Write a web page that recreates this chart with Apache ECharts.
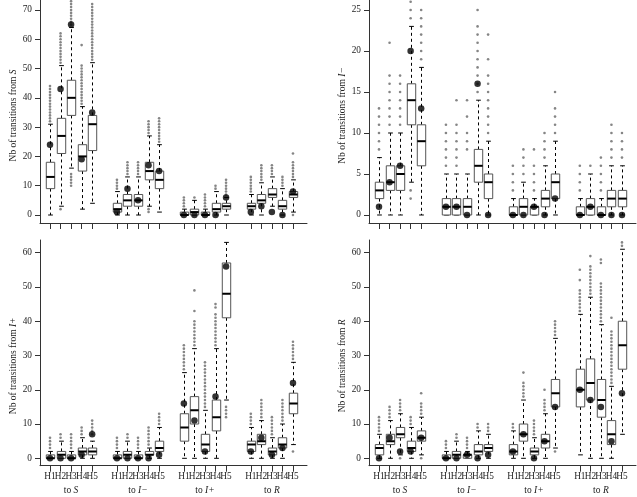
<!DOCTYPE html>
<html><head><meta charset="utf-8">
<script src="https://cdn.jsdelivr.net/npm/echarts@6/dist/echarts.min.js"></script>
<style>html,body{margin:0;padding:0;background:#fff}#c{width:637px;height:497px}</style>
</head><body><div id="c"></div>
<script>
// ---------- categories & tick labels ----------
const hLabels = ['H1','H2','H3','H4','H5'];
const groupNames = ['S','I\u2212','I+','R'];
const panelNames = ['S','I\u2212','I+','R'];
const yTicksS  = [0,10,20,30,40,50,60,70];
const yTicksIm = [0,5,10,15,20,25];
const yTicksIp = [0,10,20,30,40,50,60];
const yTicksR  = [0,10,20,30,40,50,60];

// ---------- box stats: [lower whisker, Q1, median, Q3, upper whisker]
// order: to S (H1..H5), to I− (H1..H5), to I+ (H1..H5), to R (H1..H5)
const fromS_box = [
  [0,9,13,18,31],[3,21,27,33,51],[16,34,40,46,64],[2,15,20,24,37],[4,22,31,34,52],
  [0,1,2,4,8],[0,3,5,7,13],[0,3,5,7,13],[3,12,15,18,27],[1,9,12,15,24],
  [0,0,0,1,2],[0,0,1,2,5],[0,0,0,1,2],[0,1,2,4,8],[0,2,3,4,6],
  [0,2,3,4,7],[0,4,5,7,11],[3,6,7,9,13],[0,2,3,5,9],[1,6,7,8,12]
];
const fromS_obs = [24,43,65,19,35, 1,9,5,17,15, 0,0,0,0,6, 1,3,1,0,8];
const fromS_out = [
  [32,33,34,35,36,37,38,39,40,41,42,43,44],
  [2,52,53,54,55,56,57,58,59,60,61,62],
  [10,11,12,13,14,65,66,67,68,69,70,71,72,73,74],
  [38,39,40,41,42,43,44,45,46,47,48,49,50,51,58],
  [53,54,55,56,57,58,59,60,61,62,63,64,65,66,67,68,69,70,71,72],
  [9,10,11,12],[14,15,16,17,18],[14,15,16,17,18],[1,2,28,29,30,31,32],[25,26,27,28,29,30,31,32,33],
  [3,4,5,6],[6],[3,4,5,6,7],[9,10],[7,8,9,10,11,12],
  [8,9,10,11,12,13],[12,13,14,15,16,17],[14,15,16,17],[10,11,12,13],[0,13,14,15,16,17,18,21]
];

const fromIm_box = [
  [0,2,3,4,7],[0,3,4,6,10],[0,3,5,6,10],[4,11,14,16,23],[0,6,9,11,18],
  [0,0,1,2,5],[0,0,1,2,5],[0,0,1,2,5],[0,4,6,8,14],[0,2,4,5,9],
  [0,0,0,1,2],[0,0,1,2,4],[0,0,1,1,2],[0,1,2,3,6],[0,2,4,5,9],
  [0,0,0,1,2],[0,0,1,2,5],[0,0,0,1,2],[0,1,2,3,6],[0,1,2,3,6]
];
const fromIm_obs = [1,4,6,20,13, 1,1,0,16,0, 0,0,1,0,2, 0,1,0,0,0];
const fromIm_out = [
  [8,9,10,11,12,13],[11,12,13,14,15,16,17,21],[11,12,13,14,15,16,17],[2,3,24,25,26],[19,20,21,22,23,24,25],
  [6,7,8,9,10,11],[6,7,8,9,10,11,14],[8,9,10,12,14],[15,16,17,18,19,20,21,22,23,25],[10,11,12,13,14,15,16,17,19,22],
  [3,4,5,6],[5,6,7,8],[3,4,5,6,8],[7,8,9,10],[10,11,12,13,15],
  [3,4,5,6],[6],[3,4,5,6,7],[7,8,9,10,11],[7,8,9,10]
];

const fromIp_box = [
  [0,0,0,1,2],[0,0,1,2,5],[0,0,0,1,2],[0,1,2,3,6],[0,1,2,3,5],
  [0,0,0,1,2],[0,0,1,2,5],[0,0,0,1,2],[0,1,1,2,3],[0,2,3,5,9],
  [0,5,9,13,25],[0,10,14,18,32],[0,2,4,7,14],[0,8,12,17,32],[17,41,48,57,63],
  [0,2,4,5,9],[0,4,5,7,11],[0,1,2,3,6],[0,3,4,6,10],[4,13,16,19,28]
];
const fromIp_obs = [0,0,0,1,7, 0,0,0,0,1, 16,11,2,18,56, 2,6,1,3,22];
const fromIp_out = [
  [3,4,5,6],[6,7],[3,4,5,6,7],[7,8,9],[7,8,9,10,11],
  [3,4,5,6],[6,7],[3,4,5,6],[4,5,6,7,8,9],[10,11,12,13],
  [26,27,28,29,30,31,32,33],[33,34,35,36,37,38,39,40,43,49],[15,16,17,18,19,20,21,22,23,24,25,26,27,28],[33,34,35,36,37,38,39,40,41,42,44,45],[12,13,14,15],
  [10,11,12,13],[12,13,14,15,16,17],[7,8,9,10,11,12],[11,12,13,14,15,16,17],[2,29,30,31,32,33,34]
];

const fromR_box = [
  [0,1,3,4,7],[0,4,5,7,11],[1,6,7,9,13],[0,2,3,5,9],[1,5,6,8,12],
  [0,0,0,1,2],[0,0,1,2,5],[0,0,1,1,2],[0,1,2,4,8],[0,2,3,4,7],
  [0,1,2,4,8],[0,5,7,10,17],[0,1,2,3,6],[0,3,5,7,13],[3,15,19,23,35],
  [1,15,20,26,42],[0,17,22,29,47],[0,12,17,23,39],[0,4,7,11,21],[7,26,33,40,61]
];
const fromR_obs = [0,6,2,2,6, 0,0,1,0,1, 2,7,0,5,15, 20,17,15,5,19];
const fromR_out = [
  [8,9,10,11,12],[12,13,14,15],[0,14,15,16,17],[10,11,12],[0,13,14,15,16,19],
  [3,4,5],[6,7],[3,4,5,6],[9,10],[8,9,10],
  [9,10],[18,19,20,21,22,25],[7,8,9,10,11],[14,15,16,17,20],[2,36,37,38,39,40],
  [43,44,45,46,47,48,49,52,55],[48,49,50,51,52,53,54,55,56,59],[40,41,42,43,44,45,46,47,48,49,50,51,57,58],[22,23,24,25,26,27,28,29,30,31,32,33,34,35,36,37,41],[62,63]
];

// ---------- layout ----------
const GROUP_STEP = 6.35;
const XMIN = -0.949, XMAX = 24.38;
const BOX_W = 0.8, CAP_W = 0.45;
const FONT = '"Liberation Serif","DejaVu Serif",serif';
function pos(i){ return Math.floor(i/5)*GROUP_STEP + (i%5); }
const boxPositions = Array.from({length:20}, (_,i)=>pos(i));
const oddPositions = boxPositions.filter((_,i)=>i%5===0||i%5===2||i%5===4);
const evenPositions = boxPositions.filter((_,i)=>i%5===1||i%5===3);
const groupCenters = [0,1,2,3].map(g=>g*GROUP_STEP+2);
function hFormatter(v){ const i = boxPositions.findIndex(b=>Math.abs(b-v)<0.01); return i<0?'':hLabels[i%5]; }

const panels = [
  {box:fromS_box, obs:fromS_obs, out:fromS_out, ticks:yTicksS, name:panelNames[0], left:40, top:0, height:223, ymin:-2.73, ymax:73.4, bottom:false},
  {box:fromIm_box, obs:fromIm_obs, out:fromIm_out, ticks:yTicksIm, name:panelNames[1], left:369, top:0, height:223, ymin:-0.976, ymax:26.22, bottom:false},
  {box:fromIp_box, obs:fromIp_obs, out:fromIp_out, ticks:yTicksIp, name:panelNames[2], left:40, top:240, height:225.7, ymin:-2.16, ymax:63.7, bottom:true},
  {box:fromR_box, obs:fromR_obs, out:fromR_out, ticks:yTicksR, name:panelNames[3], left:369, top:240, height:225.7, ymin:-2.16, ymax:63.7, bottom:true}
];

function renderBox(params, api){
  const x = api.value(0);
  const lo = api.coord([x, api.value(1)]);
  const q1 = api.coord([x, api.value(2)]);
  const md = api.coord([x, api.value(3)]);
  const q3 = api.coord([x, api.value(4)]);
  const hi = api.coord([x, api.value(5)]);
  const w = api.size([BOX_W, 0])[0];
  const cw = api.size([CAP_W, 0])[0];
  const cx = Math.round(lo[0]) + 0.5;
  const dash = {stroke:'#000', lineWidth:1, lineDash:[3,3]};
  const solid = {stroke:'#000', lineWidth:1};
  const ch = [];
  if (hi[1] < q3[1]) ch.push({type:'line', shape:{x1:cx,y1:q3[1],x2:cx,y2:hi[1]}, style:dash});
  if (lo[1] > q1[1]) ch.push({type:'line', shape:{x1:cx,y1:q1[1],x2:cx,y2:lo[1]}, style:dash});
  ch.push({type:'line', shape:{x1:cx-cw/2,y1:hi[1],x2:cx+cw/2,y2:hi[1]}, style:solid});
  ch.push({type:'line', shape:{x1:cx-cw/2,y1:lo[1],x2:cx+cw/2,y2:lo[1]}, style:solid});
  ch.push({type:'rect', shape:{x:cx-w/2, y:q3[1], width:w, height:Math.max(q1[1]-q3[1],0.5)}, style:{fill:'#fff', stroke:'#555', lineWidth:1}});
  ch.push({type:'line', shape:{x1:cx-w/2,y1:md[1],x2:cx+w/2,y2:md[1]}, style:{stroke:'#000', lineWidth:2}});
  return {type:'group', children:ch};
}

const grid = [], xAxis = [], yAxis = [], series = [];
panels.forEach((p, k) => {
  grid.push({left:p.left, top:p.top, width:267, height:p.height, containLabel:false});
  xAxis.push({
    gridIndex:k, type:'value', position:'bottom', min:XMIN, max:XMAX,
    axisLine:{show:true, onZero:false, lineStyle:{color:'#333', width:1}},
    axisTick:{show:true, customValues:boxPositions, length:6, lineStyle:{color:'#333'}},
    axisLabel:{show:p.bottom, customValues:oddPositions, margin:6, fontFamily:FONT, fontSize:9.3, color:'#222',
      showMinLabel:true, showMaxLabel:true, formatter:hFormatter},
    splitLine:{show:false}
  });
  yAxis.push({
    gridIndex:k, type:'value', min:p.ymin, max:p.ymax,
    axisLine:{show:true, onZero:false, lineStyle:{color:'#333', width:1}},
    axisTick:{show:true, customValues:p.ticks, length:5, lineStyle:{color:'#333'}},
    axisLabel:{customValues:p.ticks, margin:8, fontFamily:FONT, fontSize:9.3, color:'#222', showMinLabel:true, showMaxLabel:true},
    splitLine:{show:false},
    name:'Nb of transitions from {i|' + p.name + '}', nameLocation:'middle', nameGap:21,
    nameTextStyle:{fontFamily:FONT, fontSize:9.5, color:'#222', padding: p.bottom ? [0,26,0,0] : [0,8,0,0],
      rich:{i:{fontFamily:FONT, fontSize:9.5, fontStyle:'italic', color:'#222'}}}
  });
  const outData = [];
  p.out.forEach((arr, i) => arr.forEach(v => outData.push([boxPositions[i], v])));
  series.push({type:'scatter', xAxisIndex:k, yAxisIndex:k, data:outData, symbol:'circle', symbolSize:2.6,
    itemStyle:{color:'#666'}, silent:true, clip:true, z:2});
  series.push({type:'custom', xAxisIndex:k, yAxisIndex:k, renderItem:renderBox, clip:true, silent:true, z:3,
    encode:{x:0, y:[1,2,3,4,5]},
    data:p.box.map((b,i)=>[boxPositions[i]].concat(b))});
  series.push({type:'scatter', xAxisIndex:k, yAxisIndex:k, data:p.obs.map((v,i)=>[boxPositions[i], v]),
    symbol:'circle', symbolSize:6.5, itemStyle:{color:'#000'}, silent:true, clip:true, z:4});
});
// H2/H4 labels and group labels under the bottom panels
[2,3].forEach(k => {
  xAxis.push({
    gridIndex:k, type:'value', position:'bottom', offset:0, min:XMIN, max:XMAX,
    axisLine:{show:false}, axisTick:{show:false}, splitLine:{show:false},
    axisLabel:{show:true, customValues:evenPositions, margin:6, fontFamily:FONT, fontSize:9.3, color:'#222',
      showMinLabel:true, showMaxLabel:true, formatter:hFormatter}
  });
  xAxis.push({
    gridIndex:k, type:'value', position:'bottom', offset:0, min:XMIN, max:XMAX,
    axisLine:{show:false}, axisTick:{show:false}, splitLine:{show:false},
    axisLabel:{show:true, customValues:groupCenters, margin:20, fontFamily:FONT, fontSize:9.5, color:'#222',
      showMinLabel:true, showMaxLabel:true,
      formatter:(v)=>{ const g = groupCenters.findIndex(c=>Math.abs(c-v)<0.01); return g<0?'':'to {i|' + groupNames[g] + '}'; },
      rich:{i:{fontFamily:FONT, fontSize:9.5, fontStyle:'italic', color:'#222'}}}
  });
});

const chart = echarts.init(document.getElementById('c'), null, {renderer:'canvas'});
chart.setOption({animation:false, backgroundColor:'#fff', grid, xAxis, yAxis, series});
</script></body></html>
